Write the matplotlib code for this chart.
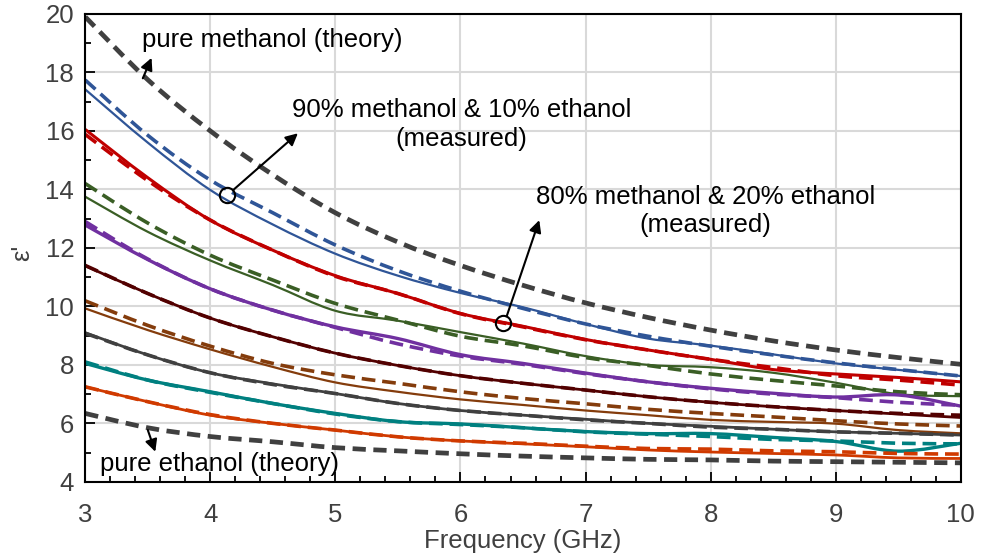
import matplotlib
matplotlib.use("Agg")
import matplotlib.pyplot as plt
from matplotlib.path import Path
from matplotlib.patches import PathPatch

plt.rcParams['font.family'] = ['Liberation Sans', 'DejaVu Sans']

# frequency grid (GHz)
freq = [3, 3.5, 4, 4.5, 5, 5.5, 6, 6.5, 7, 7.5, 8, 8.5, 9, 9.5, 10]

# pure liquids (theory)
methanol_th = [19.9, 17.75, 16.0, 14.5, 13.2, 12.2, 11.4, 10.72, 10.12, 9.62, 9.19, 8.82, 8.51, 8.25, 8.02]
ethanol_th = [6.34, 5.85, 5.55, 5.37, 5.17, 5.06, 4.96, 4.88, 4.82, 4.77, 4.75, 4.71, 4.69, 4.67, 4.65]

# mixtures: theory (dashed) / measured (solid)
blue_th = [17.74, 15.85, 14.32, 13.2, 12.1, 11.22, 10.52, 9.93, 9.4, 8.98, 8.64, 8.34, 8.07, 7.84, 7.62]
blue_me = [17.42, 15.6, 13.98, 12.8, 11.8, 11.05, 10.46, 9.97, 9.4, 8.9, 8.66, 8.36, 8.05, 7.83, 7.62]
red_th = [15.88, 14.3, 12.95, 11.92, 11.03, 10.44, 9.75, 9.3, 8.86, 8.51, 8.19, 7.91, 7.63, 7.48, 7.31]
red_me = [16.05, 14.4, 12.95, 11.92, 11.05, 10.44, 9.76, 9.32, 8.87, 8.51, 8.19, 7.84, 7.69, 7.57, 7.42]
green_th = [14.2, 12.85, 11.75, 10.9, 10.1, 9.53, 8.98, 8.65, 8.25, 7.98, 7.69, 7.47, 7.28, 7.08, 6.98]
green_me = [13.75, 12.55, 11.57, 10.73, 9.85, 9.51, 9.12, 8.73, 8.3, 8.0, 7.92, 7.73, 7.39, 7.0, 6.93]
purple_th = [12.9, 11.62, 10.6, 9.87, 9.28, 8.72, 8.3, 8.02, 7.7, 7.42, 7.18, 7.0, 6.88, 6.72, 6.62]
purple_me = [12.78, 11.6, 10.6, 9.87, 9.3, 8.9, 8.35, 8.05, 7.72, 7.42, 7.2, 7.03, 6.9, 6.97, 6.59]
maroon_th = [11.4, 10.44, 9.6, 8.96, 8.4, 7.98, 7.63, 7.37, 7.14, 6.91, 6.72, 6.57, 6.44, 6.34, 6.28]
maroon_me = [11.39, 10.44, 9.6, 8.96, 8.4, 7.98, 7.63, 7.37, 7.14, 6.91, 6.72, 6.57, 6.44, 6.32, 6.2]
brown_th = [10.19, 9.35, 8.64, 8.05, 7.66, 7.37, 7.08, 6.85, 6.67, 6.48, 6.34, 6.22, 6.09, 5.98, 5.91]
brown_me = [9.93, 9.19, 8.53, 7.93, 7.4, 7.08, 6.82, 6.63, 6.44, 6.28, 6.12, 6.05, 5.99, 5.77, 5.66]
gray_th = [9.08, 8.34, 7.73, 7.33, 7.02, 6.68, 6.44, 6.28, 6.12, 6.0, 5.87, 5.8, 5.71, 5.66, 5.6]
gray_me = [9.1, 8.34, 7.73, 7.35, 7.02, 6.68, 6.44, 6.28, 6.14, 6.0, 5.9, 5.8, 5.71, 5.66, 5.6]
teal_th = [8.1, 7.48, 7.06, 6.68, 6.32, 6.06, 5.96, 5.85, 5.71, 5.63, 5.55, 5.45, 5.4, 5.32, 5.3]
teal_me = [8.05, 7.48, 7.08, 6.68, 6.34, 6.06, 5.98, 5.85, 5.72, 5.65, 5.65, 5.52, 5.38, 5.05, 5.32]
orange_th = [7.25, 6.74, 6.3, 6.0, 5.77, 5.54, 5.4, 5.32, 5.22, 5.14, 5.12, 5.06, 5.03, 4.97, 4.95]
orange_me = [7.25, 6.74, 6.28, 6.0, 5.77, 5.54, 5.4, 5.3, 5.2, 5.09, 5.02, 4.97, 4.92, 4.82, 4.8]

pairs = [
    (blue_th, blue_me, '#2F5597', 1.6),
    (red_th, red_me, '#C00000', 2.2),
    (green_th, green_me, '#3A5E25', 1.6),
    (purple_th, purple_me, '#7030A0', 2.4),
    (maroon_th, maroon_me, '#520000', 2.0),
    (brown_th, brown_me, '#843C0C', 1.6),
    (gray_th, gray_me, '#404040', 2.0),
    (teal_th, teal_me, '#008080', 2.4),
    (orange_th, orange_me, '#D03A00', 2.0),
]


def smooth_line(ax, xs, ys, **kw):
    # smoothed line through the points (cubic bezier, like a spreadsheet "smoothed line")
    pts = list(zip(xs, ys))
    verts = [pts[0]]
    codes = [Path.MOVETO]
    n = len(pts)
    for i in range(n - 1):
        p0 = pts[max(i - 1, 0)]
        p1 = pts[i]
        p2 = pts[i + 1]
        p3 = pts[min(i + 2, n - 1)]
        c1 = (p1[0] + (p2[0] - p0[0]) / 6, p1[1] + (p2[1] - p0[1]) / 6)
        c2 = (p2[0] - (p3[0] - p1[0]) / 6, p2[1] - (p3[1] - p1[1]) / 6)
        verts += [c1, c2, p2]
        codes += [Path.CURVE4] * 3
    ax.add_patch(PathPatch(Path(verts, codes), fill=False, **kw))


fig = plt.figure(figsize=(9.87, 5.59), dpi=100)
ax = fig.add_axes([0.0864, 0.138, 0.887, 0.837])

for th, me, col, lw in pairs:
    smooth_line(ax, freq, th, edgecolor=col, lw=2.6, ls=(0, (3.8, 1.9)))
    smooth_line(ax, freq, me, edgecolor=col, lw=lw)

smooth_line(ax, freq, methanol_th, edgecolor='#404040', lw=3.4, ls=(0, (2.8, 1.6)))
smooth_line(ax, freq, ethanol_th, edgecolor='#404040', lw=3.4, ls=(0, (2.8, 1.6)))

ax.set_xlim(3, 10)
ax.set_ylim(4, 20)
ax.set_xticks(range(3, 11))
ax.set_yticks(range(4, 21, 2))
ax.set_xticks([3 + 0.2 * i for i in range(36)], minor=True)
ax.set_yticks(range(4, 21), minor=True)
ax.grid(True, which='major', color='#D9D9D9', lw=1.5)
ax.set_axisbelow(True)
ax.tick_params(which='both', direction='in', top=False, right=False,
               labelsize=18.5, labelcolor='#404040', width=1.3)
ax.tick_params(axis='x', which='major', length=7, pad=15)
ax.tick_params(axis='y', which='major', length=7, pad=8)
ax.tick_params(which='minor', length=4)
for sp in ax.spines.values():
    sp.set_color('black')
    sp.set_linewidth(1.5)

ax.set_xlabel('Frequency (GHz)', fontsize=18.5, color='#404040')
ax.set_ylabel("ε'", fontsize=18.5, color='#404040')
ax.xaxis.set_label_coords(0.5, -0.1)
ax.yaxis.set_label_coords(-0.058, 0.49)

arrow = dict(arrowstyle='-|>', color='black', lw=1.5, mutation_scale=18, shrinkA=0, shrinkB=0)

ax.text(3.45, 19.1, 'pure methanol (theory)', fontsize=18.5, va='center', ha='left')
ax.annotate('', xy=(3.53, 18.5), xytext=(3.46, 17.8), arrowprops=arrow)

ax.text(6.01, 16.23, '90% methanol & 10% ethanol\n(measured)', fontsize=18.5,
        ha='center', va='center', linespacing=1.25)
ax.plot([4.13], [13.8], marker='o', ms=11, mfc='none', mec='black', mew=1.5)
ax.annotate('', xy=(4.70, 15.92), xytext=(4.18, 13.97), arrowprops=arrow)

ax.text(7.96, 13.26, '80% methanol & 20% ethanol\n(measured)', fontsize=18.5,
        ha='center', va='center', linespacing=1.25)
ax.plot([6.34], [9.42], marker='o', ms=11, mfc='none', mec='black', mew=1.5)
ax.annotate('', xy=(6.63, 12.95), xytext=(6.37, 9.67), arrowprops=arrow)

ax.text(3.12, 4.62, 'pure ethanol (theory)', fontsize=18.5, va='center', ha='left')
ax.annotate('', xy=(3.56, 5.03), xytext=(3.5, 5.77), arrowprops=arrow)

fig.savefig('out.png', dpi=100)
